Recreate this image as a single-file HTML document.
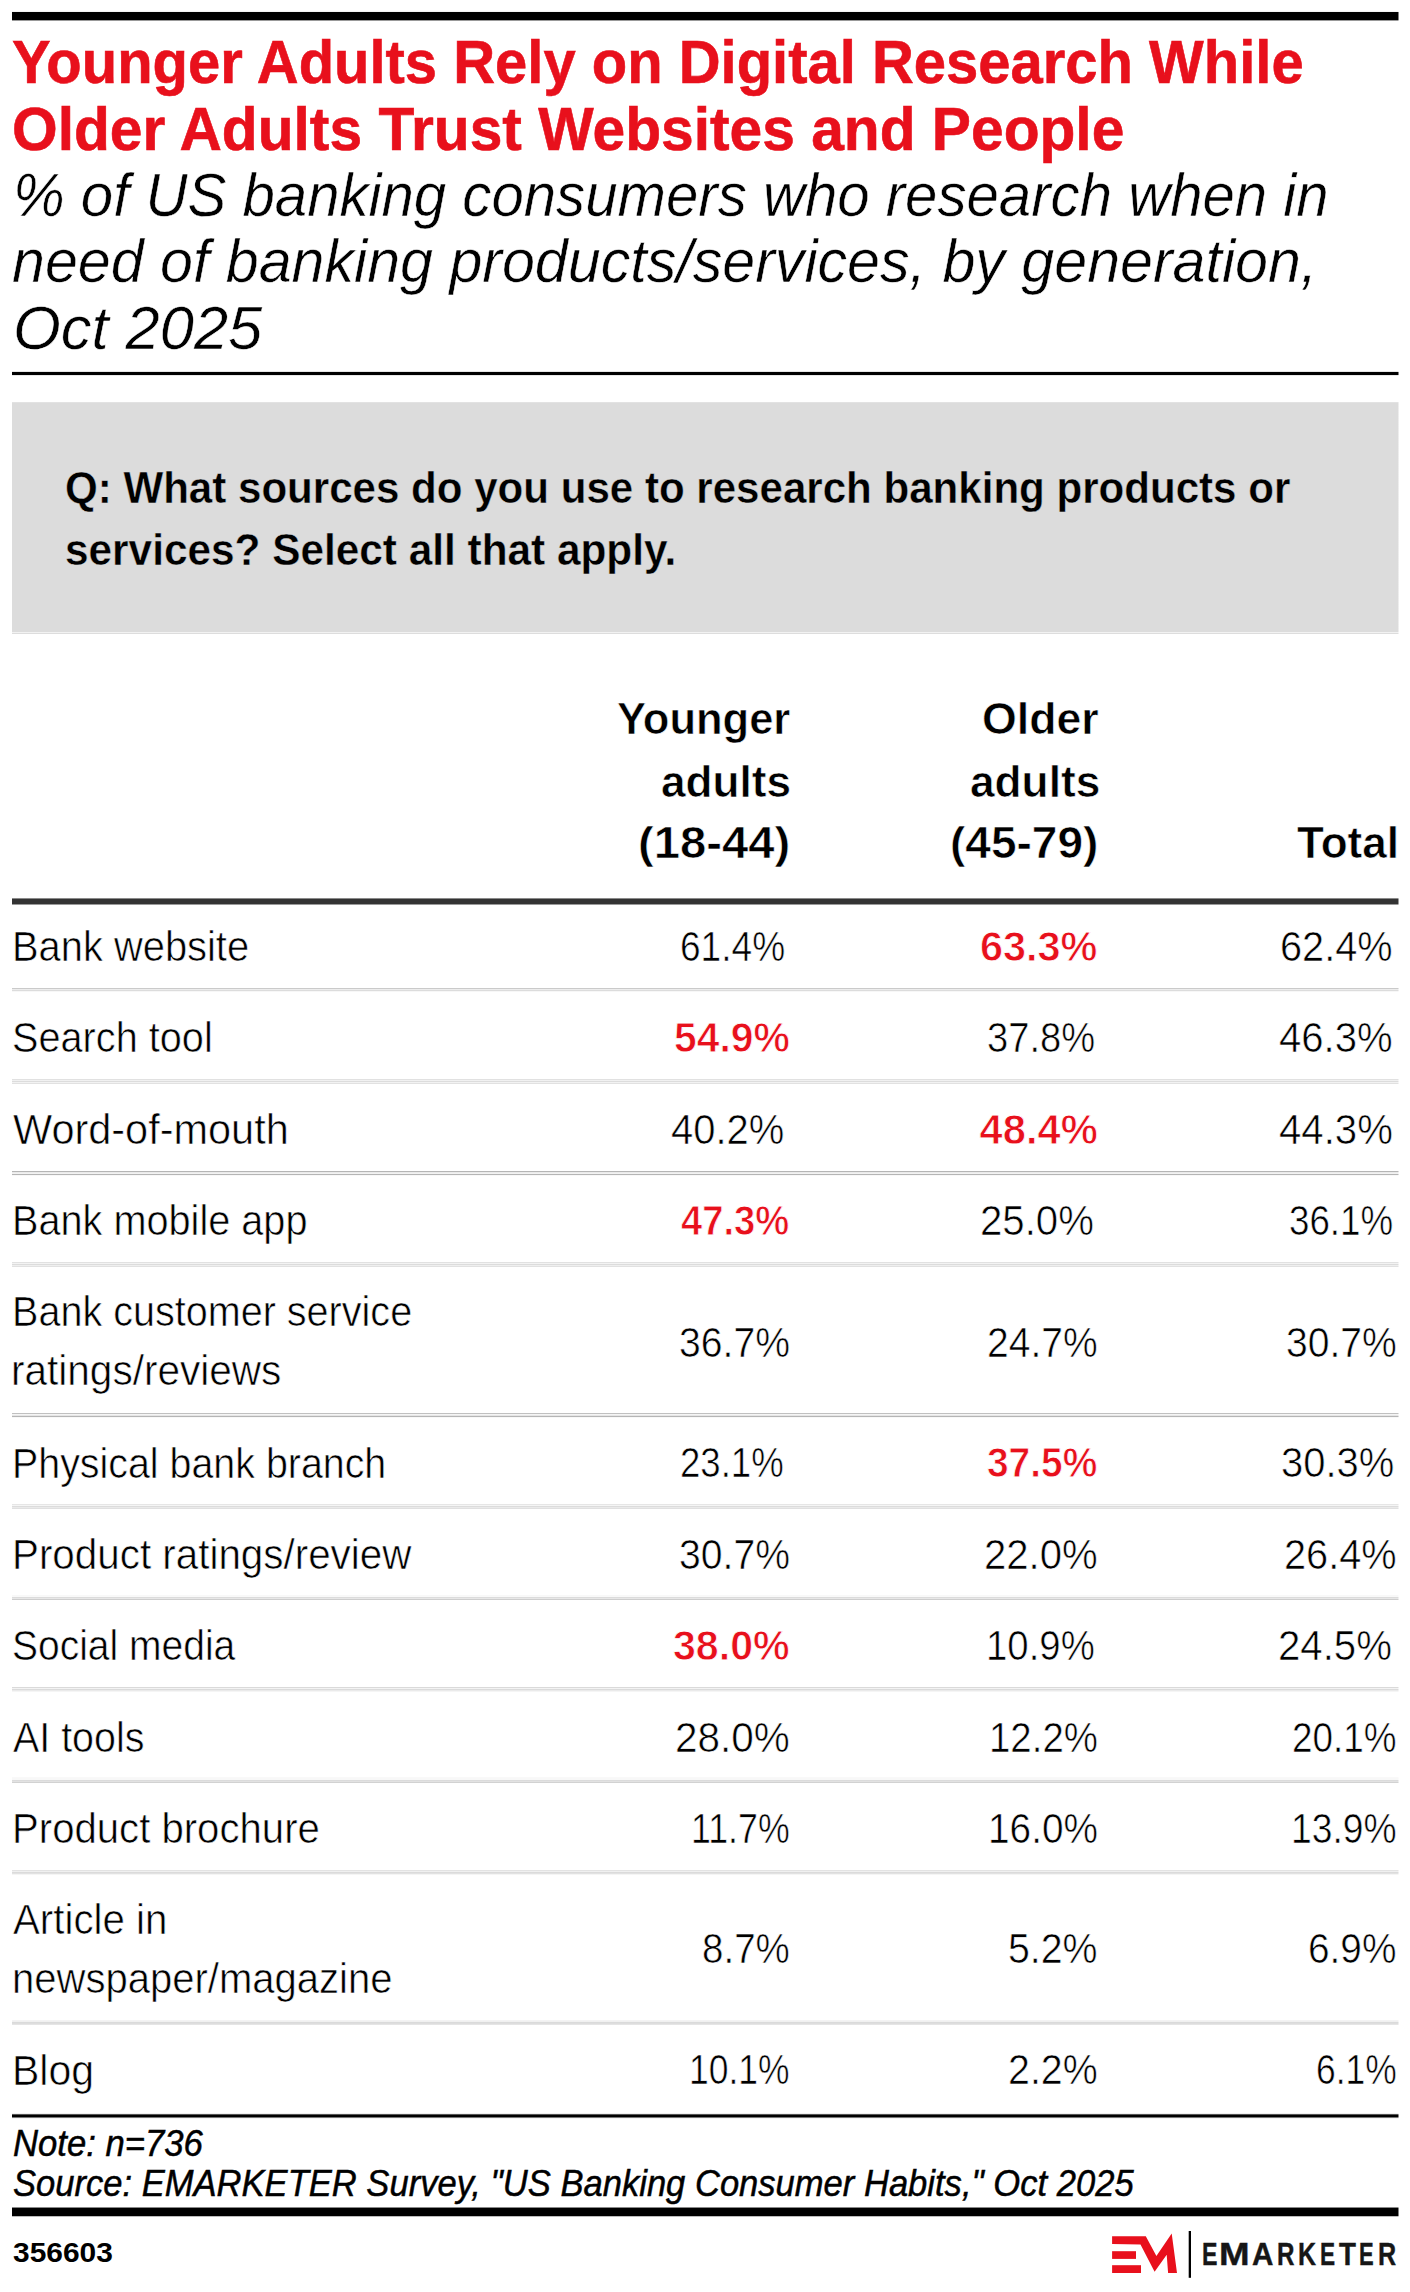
<!DOCTYPE html><html><head><meta charset="utf-8"><style>
*{margin:0;padding:0;box-sizing:border-box}
html,body{width:1410px;height:2292px;background:#fff;overflow:hidden}
body{position:relative;font-family:"Liberation Sans",Arial,sans-serif}
.t{position:absolute;white-space:pre;line-height:1;transform-origin:0 0}
.r{position:absolute}
</style></head><body>
<div class="r" style="left:12px;top:11px;width:1386px;height:10px;background:linear-gradient(#f4f4f4 0px,#f4f4f4 1px,#000000 1px,#000000 9px,#999999 9px,#999999 10px)"></div><div class="r" style="left:1398px;top:11px;width:1px;height:10px;background:linear-gradient(#f4f4f4 0px,#f4f4f4 1px,#000000 1px,#000000 9px,#999999 9px,#999999 10px);opacity:0.50"></div>
<div class="r" style="left:12px;top:371px;width:1386px;height:5px;background:linear-gradient(#e6e6e6 0px,#e6e6e6 1px,#000000 1px,#000000 4px,#e8e8e8 4px,#e8e8e8 5px)"></div><div class="r" style="left:1398px;top:371px;width:1px;height:5px;background:linear-gradient(#e6e6e6 0px,#e6e6e6 1px,#000000 1px,#000000 4px,#e8e8e8 4px,#e8e8e8 5px);opacity:0.50"></div>
<div class="r" style="left:12px;top:402px;width:1386px;height:232px;background:linear-gradient(#e2e2e2 0px,#e2e2e2 1px,#dcdcdc 1px,#dcdcdc 230px,#f2f2f2 230px,#f2f2f2 231px,#dddddd 231px,#dddddd 232px)"></div><div class="r" style="left:1398px;top:402px;width:1px;height:232px;background:linear-gradient(#e2e2e2 0px,#e2e2e2 1px,#dcdcdc 1px,#dcdcdc 230px,#f2f2f2 230px,#f2f2f2 231px,#dddddd 231px,#dddddd 232px);opacity:0.50"></div>
<div class="r" style="left:12px;top:898px;width:1386px;height:7px;background:linear-gradient(#8a8a8a 0px,#8a8a8a 1px,#333333 1px,#333333 6px,#9a9a9a 6px,#9a9a9a 7px)"></div><div class="r" style="left:1398px;top:898px;width:1px;height:7px;background:linear-gradient(#8a8a8a 0px,#8a8a8a 1px,#333333 1px,#333333 6px,#9a9a9a 6px,#9a9a9a 7px);opacity:0.50"></div>
<div class="r" style="left:12px;top:988px;width:1386px;height:4px;background:linear-gradient(#cacaca 0px,#cacaca 1px,#ededed 1px,#ededed 2px,#dcdcdc 2px,#dcdcdc 3px,#f7f7f7 3px,#f7f7f7 4px)"></div><div class="r" style="left:1398px;top:988px;width:1px;height:4px;background:linear-gradient(#cacaca 0px,#cacaca 1px,#ededed 1px,#ededed 2px,#dcdcdc 2px,#dcdcdc 3px,#f7f7f7 3px,#f7f7f7 4px);opacity:0.50"></div>
<div class="r" style="left:12px;top:1079px;width:1386px;height:5px;background:linear-gradient(#e1e1e1 0px,#e1e1e1 1px,#f1f1f1 1px,#f1f1f1 2px,#dcdcdc 2px,#dcdcdc 3px,#f2f2f2 3px,#f2f2f2 4px,#e1e1e1 4px,#e1e1e1 5px)"></div><div class="r" style="left:1398px;top:1079px;width:1px;height:5px;background:linear-gradient(#e1e1e1 0px,#e1e1e1 1px,#f1f1f1 1px,#f1f1f1 2px,#dcdcdc 2px,#dcdcdc 3px,#f2f2f2 3px,#f2f2f2 4px,#e1e1e1 4px,#e1e1e1 5px);opacity:0.50"></div>
<div class="r" style="left:12px;top:1171px;width:1386px;height:5px;background:linear-gradient(#b5b5b5 0px,#b5b5b5 1px,#eaeaea 1px,#eaeaea 2px,#f2f2f2 2px,#f2f2f2 3px,#b5b5b5 3px,#b5b5b5 4px,#f8f8f8 4px,#f8f8f8 5px)"></div><div class="r" style="left:1398px;top:1171px;width:1px;height:5px;background:linear-gradient(#b5b5b5 0px,#b5b5b5 1px,#eaeaea 1px,#eaeaea 2px,#f2f2f2 2px,#f2f2f2 3px,#b5b5b5 3px,#b5b5b5 4px,#f8f8f8 4px,#f8f8f8 5px);opacity:0.50"></div>
<div class="r" style="left:12px;top:1262px;width:1386px;height:5px;background:linear-gradient(#e1e1e1 0px,#e1e1e1 1px,#f3f3f3 1px,#f3f3f3 2px,#dcdcdc 2px,#dcdcdc 3px,#efefef 3px,#efefef 4px,#e1e1e1 4px,#e1e1e1 5px)"></div><div class="r" style="left:1398px;top:1262px;width:1px;height:5px;background:linear-gradient(#e1e1e1 0px,#e1e1e1 1px,#f3f3f3 1px,#f3f3f3 2px,#dcdcdc 2px,#dcdcdc 3px,#efefef 3px,#efefef 4px,#e1e1e1 4px,#e1e1e1 5px);opacity:0.50"></div>
<div class="r" style="left:12px;top:1413px;width:1386px;height:5px;background:linear-gradient(#c0c0c0 0px,#c0c0c0 1px,#f5f5f5 1px,#f5f5f5 2px,#e5e5e5 2px,#e5e5e5 3px,#b5b5b5 3px,#b5b5b5 4px,#f8f8f8 4px,#f8f8f8 5px)"></div><div class="r" style="left:1398px;top:1413px;width:1px;height:5px;background:linear-gradient(#c0c0c0 0px,#c0c0c0 1px,#f5f5f5 1px,#f5f5f5 2px,#e5e5e5 2px,#e5e5e5 3px,#b5b5b5 3px,#b5b5b5 4px,#f8f8f8 4px,#f8f8f8 5px);opacity:0.50"></div>
<div class="r" style="left:12px;top:1504px;width:1386px;height:5px;background:linear-gradient(#e6e6e6 0px,#e6e6e6 1px,#f5f5f5 1px,#f5f5f5 2px,#dcdcdc 2px,#dcdcdc 3px,#eaeaea 3px,#eaeaea 4px,#e0e0e0 4px,#e0e0e0 5px)"></div><div class="r" style="left:1398px;top:1504px;width:1px;height:5px;background:linear-gradient(#e6e6e6 0px,#e6e6e6 1px,#f5f5f5 1px,#f5f5f5 2px,#dcdcdc 2px,#dcdcdc 3px,#eaeaea 3px,#eaeaea 4px,#e0e0e0 4px,#e0e0e0 5px);opacity:0.50"></div>
<div class="r" style="left:12px;top:1595px;width:1386px;height:5px;background:linear-gradient(#f8f8f8 0px,#f8f8f8 1px,#f9f9f9 1px,#f9f9f9 2px,#dcdcdc 2px,#dcdcdc 3px,#e7e7e7 3px,#e7e7e7 4px,#cdcdcd 4px,#cdcdcd 5px)"></div><div class="r" style="left:1398px;top:1595px;width:1px;height:5px;background:linear-gradient(#f8f8f8 0px,#f8f8f8 1px,#f9f9f9 1px,#f9f9f9 2px,#dcdcdc 2px,#dcdcdc 3px,#e7e7e7 3px,#e7e7e7 4px,#cdcdcd 4px,#cdcdcd 5px);opacity:0.50"></div>
<div class="r" style="left:12px;top:1687px;width:1386px;height:5px;background:linear-gradient(#dadada 0px,#dadada 1px,#f3f3f3 1px,#f3f3f3 2px,#dbdbdb 2px,#dbdbdb 3px,#eaeaea 3px,#eaeaea 4px,#f5f5f5 4px,#f5f5f5 5px)"></div><div class="r" style="left:1398px;top:1687px;width:1px;height:5px;background:linear-gradient(#dadada 0px,#dadada 1px,#f3f3f3 1px,#f3f3f3 2px,#dbdbdb 2px,#dbdbdb 3px,#eaeaea 3px,#eaeaea 4px,#f5f5f5 4px,#f5f5f5 5px);opacity:0.50"></div>
<div class="r" style="left:12px;top:1777px;width:1386px;height:6px;background:linear-gradient(#f9f9f9 0px,#f9f9f9 1px,#f8f8f8 1px,#f8f8f8 3px,#dbdbdb 3px,#dbdbdb 4px,#e2e2e2 4px,#e2e2e2 5px,#d2d2d2 5px,#d2d2d2 6px)"></div><div class="r" style="left:1398px;top:1777px;width:1px;height:6px;background:linear-gradient(#f9f9f9 0px,#f9f9f9 1px,#f8f8f8 1px,#f8f8f8 3px,#dbdbdb 3px,#dbdbdb 4px,#e2e2e2 4px,#e2e2e2 5px,#d2d2d2 5px,#d2d2d2 6px);opacity:0.50"></div>
<div class="r" style="left:12px;top:1870px;width:1386px;height:5px;background:linear-gradient(#e3e3e3 0px,#e3e3e3 1px,#f0f0f0 1px,#f0f0f0 2px,#dbdbdb 2px,#dbdbdb 3px,#e2e2e2 3px,#e2e2e2 4px,#f5f5f5 4px,#f5f5f5 5px)"></div><div class="r" style="left:1398px;top:1870px;width:1px;height:5px;background:linear-gradient(#e3e3e3 0px,#e3e3e3 1px,#f0f0f0 1px,#f0f0f0 2px,#dbdbdb 2px,#dbdbdb 3px,#e2e2e2 3px,#e2e2e2 4px,#f5f5f5 4px,#f5f5f5 5px);opacity:0.50"></div>
<div class="r" style="left:12px;top:2020px;width:1386px;height:5px;background:linear-gradient(#f3f3f3 0px,#f3f3f3 1px,#f0f0f0 1px,#f0f0f0 2px,#dadada 2px,#dadada 3px,#dddddd 3px,#dddddd 4px,#e5e5e5 4px,#e5e5e5 5px)"></div><div class="r" style="left:1398px;top:2020px;width:1px;height:5px;background:linear-gradient(#f3f3f3 0px,#f3f3f3 1px,#f0f0f0 1px,#f0f0f0 2px,#dadada 2px,#dadada 3px,#dddddd 3px,#dddddd 4px,#e5e5e5 4px,#e5e5e5 5px);opacity:0.50"></div>
<div class="r" style="left:12px;top:2113px;width:1386px;height:6px;background:linear-gradient(#f0f0f0 0px,#f0f0f0 1px,#555555 1px,#555555 2px,#000000 2px,#000000 4px,#777777 4px,#777777 5px,#f4f4f4 5px,#f4f4f4 6px)"></div><div class="r" style="left:1398px;top:2113px;width:1px;height:6px;background:linear-gradient(#f0f0f0 0px,#f0f0f0 1px,#555555 1px,#555555 2px,#000000 2px,#000000 4px,#777777 4px,#777777 5px,#f4f4f4 5px,#f4f4f4 6px);opacity:0.50"></div>
<div class="r" style="left:12px;top:2207px;width:1386px;height:10px;background:linear-gradient(#888888 0px,#888888 1px,#000000 1px,#000000 9px,#bbbbbb 9px,#bbbbbb 10px)"></div><div class="r" style="left:1398px;top:2207px;width:1px;height:10px;background:linear-gradient(#888888 0px,#888888 1px,#000000 1px,#000000 9px,#bbbbbb 9px,#bbbbbb 10px);opacity:0.50"></div>
<svg class="r" style="left:0;top:0" width="1410" height="2292" viewBox="0 0 1410 2292"><g fill="#e8101c"><polygon points="1112.1,2236.3 1145.8,2236.3 1156.4,2255.9 1171.7,2233.5 1177.0,2272.9 1168.1,2272.9 1166.7,2254.8 1154.6,2271.8 1140.5,2244.5 1112.1,2244.1"/><rect x="1112.1" y="2251.2" width="23.9" height="7.7"/><rect x="1112.1" y="2265.2" width="28.9" height="7.8"/></g><rect x="1188.7" y="2231" width="2.3" height="46.8" fill="#000"/></svg>
<div class="t" id="t1" style="left:11.59px;top:32.41px;font-size:60.44px;font-weight:700;color:#e8101c;transform:scaleX(0.9592);-webkit-text-stroke:0.6px #e8101c;">Younger Adults Rely on Digital Research While</div>
<div class="t" id="t2" style="left:12.17px;top:98.60px;font-size:60.44px;font-weight:700;color:#e8101c;transform:scaleX(0.9713);-webkit-text-stroke:0.6px #e8101c;">Older Adults Trust Websites and People</div>
<div class="t" id="s1" style="left:13.37px;top:166.11px;font-size:60.16px;font-style:italic;transform:scaleX(0.9667);-webkit-text-stroke:0.5px #fff;">% of US banking consumers who research when in</div>
<div class="t" id="s2" style="left:12.08px;top:232.41px;font-size:60.16px;font-style:italic;transform:scaleX(0.9832);-webkit-text-stroke:0.5px #fff;">need of banking products/services, by generation,</div>
<div class="t" id="s3" style="left:13.02px;top:299.22px;font-size:60.16px;font-style:italic;transform:scaleX(1.0211);-webkit-text-stroke:0.5px #fff;">Oct 2025</div>
<div class="t" id="q1" style="left:64.98px;top:465.10px;font-size:44.80px;font-weight:700;transform:scaleX(0.9394);-webkit-text-stroke:0.4px #dcdcdc;">Q: What sources do you use to research banking products or</div>
<div class="t" id="q2" style="left:64.68px;top:526.91px;font-size:44.80px;font-weight:700;transform:scaleX(0.9453);-webkit-text-stroke:0.4px #dcdcdc;">services? Select all that apply.</div>
<div class="t" id="h1a" style="left:617.22px;top:696.21px;font-size:44.80px;font-weight:700;transform:scaleX(0.9716);-webkit-text-stroke:0.6px #fff;">Younger</div>
<div class="t" id="h1b" style="left:661.11px;top:758.51px;font-size:44.80px;font-weight:700;transform:scaleX(0.9868);-webkit-text-stroke:0.6px #fff;">adults</div>
<div class="t" id="h1c" style="left:637.99px;top:820.30px;font-size:44.80px;font-weight:700;transform:scaleX(1.0533);-webkit-text-stroke:0.6px #fff;">(18-44)</div>
<div class="t" id="h2a" style="left:982.20px;top:696.21px;font-size:44.80px;font-weight:700;transform:scaleX(0.9967);-webkit-text-stroke:0.6px #fff;">Older</div>
<div class="t" id="h2b" style="left:969.51px;top:758.51px;font-size:44.80px;font-weight:700;transform:scaleX(0.9875);-webkit-text-stroke:0.6px #fff;">adults</div>
<div class="t" id="h2c" style="left:950.04px;top:820.21px;font-size:44.80px;font-weight:700;transform:scaleX(1.0277);-webkit-text-stroke:0.6px #fff;">(45-79)</div>
<div class="t" id="h3" style="left:1296.60px;top:819.91px;font-size:44.80px;font-weight:700;transform:scaleX(0.9838);-webkit-text-stroke:0.6px #fff;">Total</div>
<div class="t" id="l0" style="left:12.09px;top:925.50px;font-size:42.10px;transform:scaleX(0.9471);-webkit-text-stroke:0.6px #fff;">Bank website</div>
<div class="t" id="l1" style="left:11.96px;top:1016.71px;font-size:42.10px;transform:scaleX(0.9427);-webkit-text-stroke:0.6px #fff;">Search tool</div>
<div class="t" id="l2" style="left:13.20px;top:1108.80px;font-size:42.10px;transform:scaleX(0.9849);-webkit-text-stroke:0.6px #fff;">Word-of-mouth</div>
<div class="t" id="l3" style="left:12.20px;top:1200.30px;font-size:42.10px;transform:scaleX(0.9423);-webkit-text-stroke:0.6px #fff;">Bank mobile app</div>
<div class="t" id="l4" style="left:12.11px;top:1291.21px;font-size:42.10px;transform:scaleX(0.9398);-webkit-text-stroke:0.6px #fff;">Bank customer service</div>
<div class="t" id="l5" style="left:10.97px;top:1350.10px;font-size:42.10px;transform:scaleX(0.9628);-webkit-text-stroke:0.6px #fff;">ratings/reviews</div>
<div class="t" id="l6" style="left:12.12px;top:1442.71px;font-size:42.10px;transform:scaleX(0.9354);-webkit-text-stroke:0.6px #fff;">Physical bank branch</div>
<div class="t" id="l7" style="left:12.05px;top:1533.71px;font-size:42.10px;transform:scaleX(0.9589);-webkit-text-stroke:0.6px #fff;">Product ratings/review</div>
<div class="t" id="l8" style="left:11.98px;top:1624.60px;font-size:42.10px;transform:scaleX(0.9264);-webkit-text-stroke:0.6px #fff;">Social media</div>
<div class="t" id="l9" style="left:13.00px;top:1716.71px;font-size:42.10px;transform:scaleX(0.9354);-webkit-text-stroke:0.6px #fff;">AI tools</div>
<div class="t" id="l10" style="left:12.06px;top:1808.21px;font-size:42.10px;transform:scaleX(0.9533);-webkit-text-stroke:0.6px #fff;">Product brochure</div>
<div class="t" id="l11" style="left:13.00px;top:1899.00px;font-size:42.10px;transform:scaleX(0.9562);-webkit-text-stroke:0.6px #fff;">Article in</div>
<div class="t" id="l12" style="left:12.00px;top:1957.71px;font-size:42.10px;transform:scaleX(0.9509);-webkit-text-stroke:0.6px #fff;">newspaper/magazine</div>
<div class="t" id="l13" style="left:11.99px;top:2049.91px;font-size:42.10px;transform:scaleX(0.9745);-webkit-text-stroke:0.6px #fff;">Blog</div>
<div class="t" id="v0" style="left:679.56px;top:925.71px;font-size:41.67px;transform:scaleX(0.8899);-webkit-text-stroke:0.6px #fff;">61.4%</div>
<div class="t" id="v1" style="left:980.11px;top:925.71px;font-size:41.67px;font-weight:700;color:#e8101c;transform:scaleX(0.9943);-webkit-text-stroke:0.8px #fff;">63.3%</div>
<div class="t" id="v2" style="left:1279.54px;top:925.71px;font-size:41.67px;transform:scaleX(0.9534);-webkit-text-stroke:0.6px #fff;">62.4%</div>
<div class="t" id="v3" style="left:673.76px;top:1016.80px;font-size:41.67px;font-weight:700;color:#e8101c;transform:scaleX(0.9802);-webkit-text-stroke:0.8px #fff;">54.9%</div>
<div class="t" id="v4" style="left:987.11px;top:1016.80px;font-size:41.67px;transform:scaleX(0.9151);-webkit-text-stroke:0.6px #fff;">37.8%</div>
<div class="t" id="v5" style="left:1279.27px;top:1016.80px;font-size:41.67px;transform:scaleX(0.9616);-webkit-text-stroke:0.6px #fff;">46.3%</div>
<div class="t" id="v6" style="left:670.78px;top:1108.80px;font-size:41.67px;transform:scaleX(0.9590);-webkit-text-stroke:0.6px #fff;">40.2%</div>
<div class="t" id="v7" style="left:979.60px;top:1108.80px;font-size:41.67px;font-weight:700;color:#e8101c;-webkit-text-stroke:0.8px #fff;">48.4%</div>
<div class="t" id="v8" style="left:1278.97px;top:1108.80px;font-size:41.67px;transform:scaleX(0.9642);-webkit-text-stroke:0.6px #fff;">44.3%</div>
<div class="t" id="v9" style="left:681.30px;top:1200.30px;font-size:41.67px;font-weight:700;color:#e8101c;transform:scaleX(0.9161);-webkit-text-stroke:0.8px #fff;">47.3%</div>
<div class="t" id="v10" style="left:980.22px;top:1200.30px;font-size:41.67px;transform:scaleX(0.9638);-webkit-text-stroke:0.6px #fff;">25.0%</div>
<div class="t" id="v11" style="left:1288.65px;top:1200.30px;font-size:41.67px;transform:scaleX(0.8814);-webkit-text-stroke:0.6px #fff;">36.1%</div>
<div class="t" id="v12" style="left:678.68px;top:1321.80px;font-size:41.67px;transform:scaleX(0.9393);-webkit-text-stroke:0.6px #fff;">36.7%</div>
<div class="t" id="v13" style="left:986.87px;top:1321.80px;font-size:41.67px;transform:scaleX(0.9368);-webkit-text-stroke:0.6px #fff;">24.7%</div>
<div class="t" id="v14" style="left:1286.18px;top:1321.80px;font-size:41.67px;transform:scaleX(0.9385);-webkit-text-stroke:0.6px #fff;">30.7%</div>
<div class="t" id="v15" style="left:679.79px;top:1442.30px;font-size:41.67px;transform:scaleX(0.8777);-webkit-text-stroke:0.6px #fff;">23.1%</div>
<div class="t" id="v16" style="left:987.19px;top:1442.30px;font-size:41.67px;font-weight:700;color:#e8101c;transform:scaleX(0.9332);-webkit-text-stroke:0.8px #fff;">37.5%</div>
<div class="t" id="v17" style="left:1280.55px;top:1442.30px;font-size:41.67px;transform:scaleX(0.9592);-webkit-text-stroke:0.6px #fff;">30.3%</div>
<div class="t" id="v18" style="left:678.68px;top:1533.50px;font-size:41.67px;transform:scaleX(0.9393);-webkit-text-stroke:0.6px #fff;">30.7%</div>
<div class="t" id="v19" style="left:984.32px;top:1533.50px;font-size:41.67px;transform:scaleX(0.9629);-webkit-text-stroke:0.6px #fff;">22.0%</div>
<div class="t" id="v20" style="left:1284.34px;top:1533.50px;font-size:41.67px;transform:scaleX(0.9542);-webkit-text-stroke:0.6px #fff;">26.4%</div>
<div class="t" id="v21" style="left:672.76px;top:1625.00px;font-size:41.67px;font-weight:700;color:#e8101c;transform:scaleX(0.9870);-webkit-text-stroke:0.8px #fff;">38.0%</div>
<div class="t" id="v22" style="left:986.30px;top:1625.00px;font-size:41.67px;transform:scaleX(0.9212);-webkit-text-stroke:0.6px #fff;">10.9%</div>
<div class="t" id="v23" style="left:1278.32px;top:1625.00px;font-size:41.67px;transform:scaleX(0.9647);-webkit-text-stroke:0.6px #fff;">24.5%</div>
<div class="t" id="v24" style="left:675.10px;top:1716.61px;font-size:41.67px;transform:scaleX(0.9716);-webkit-text-stroke:0.6px #fff;">28.0%</div>
<div class="t" id="v25" style="left:988.60px;top:1716.61px;font-size:41.67px;transform:scaleX(0.9220);-webkit-text-stroke:0.6px #fff;">12.2%</div>
<div class="t" id="v26" style="left:1292.27px;top:1716.61px;font-size:41.67px;transform:scaleX(0.8846);-webkit-text-stroke:0.6px #fff;">20.1%</div>
<div class="t" id="v27" style="left:691.07px;top:1808.11px;font-size:41.67px;transform:scaleX(0.8578);-webkit-text-stroke:0.6px #fff;">11.7%</div>
<div class="t" id="v28" style="left:987.58px;top:1808.11px;font-size:41.67px;transform:scaleX(0.9308);-webkit-text-stroke:0.6px #fff;">16.0%</div>
<div class="t" id="v29" style="left:1291.17px;top:1808.11px;font-size:41.67px;transform:scaleX(0.8941);-webkit-text-stroke:0.6px #fff;">13.9%</div>
<div class="t" id="v30" style="left:702.00px;top:1928.41px;font-size:41.67px;transform:scaleX(0.9249);-webkit-text-stroke:0.6px #fff;">8.7%</div>
<div class="t" id="v31" style="left:1007.97px;top:1928.41px;font-size:41.67px;transform:scaleX(0.9433);-webkit-text-stroke:0.6px #fff;">5.2%</div>
<div class="t" id="v32" style="left:1308.38px;top:1928.41px;font-size:41.67px;transform:scaleX(0.9315);-webkit-text-stroke:0.6px #fff;">6.9%</div>
<div class="t" id="v33" style="left:689.29px;top:2049.30px;font-size:41.67px;transform:scaleX(0.8503);-webkit-text-stroke:0.6px #fff;">10.1%</div>
<div class="t" id="v34" style="left:1007.85px;top:2049.30px;font-size:41.67px;transform:scaleX(0.9446);-webkit-text-stroke:0.6px #fff;">2.2%</div>
<div class="t" id="v35" style="left:1315.94px;top:2049.30px;font-size:41.67px;transform:scaleX(0.8509);-webkit-text-stroke:0.6px #fff;">6.1%</div>
<div class="t" id="n1" style="left:12.76px;top:2125.01px;font-size:36.98px;font-style:italic;transform:scaleX(0.9373);-webkit-text-stroke:0.5px #000;">Note: n=736</div>
<div class="t" id="n2" style="left:12.76px;top:2165.01px;font-size:36.98px;font-style:italic;transform:scaleX(0.9348);-webkit-text-stroke:0.5px #000;">Source: EMARKETER Survey, &quot;US Banking Consumer Habits,&quot; Oct 2025</div>
<div class="t" id="id" style="left:12.63px;top:2239.21px;font-size:28.02px;font-weight:700;transform:scaleX(1.0687);">356603</div>
<div class="t" id="em0" style="left:1201.75px;top:2239.40px;font-size:31.00px;font-weight:700;color:#161616;transform:scaleX(0.7476);-webkit-text-stroke:0.4px #161616;">E</div>
<div class="t" id="em1" style="left:1219.20px;top:2239.40px;font-size:31.00px;font-weight:700;color:#161616;transform:scaleX(1.1847);-webkit-text-stroke:0.4px #161616;">M</div>
<div class="t" id="em2" style="left:1251.54px;top:2239.40px;font-size:31.00px;font-weight:700;color:#161616;transform:scaleX(0.9570);-webkit-text-stroke:0.4px #161616;">A</div>
<div class="t" id="em3" style="left:1276.59px;top:2239.40px;font-size:31.00px;font-weight:700;color:#161616;transform:scaleX(0.7804);-webkit-text-stroke:0.4px #161616;">R</div>
<div class="t" id="em4" style="left:1298.44px;top:2239.40px;font-size:31.00px;font-weight:700;color:#161616;transform:scaleX(0.8060);-webkit-text-stroke:0.4px #161616;">K</div>
<div class="t" id="em5" style="left:1320.18px;top:2239.40px;font-size:31.00px;font-weight:700;color:#161616;transform:scaleX(0.7308);-webkit-text-stroke:0.4px #161616;">E</div>
<div class="t" id="em6" style="left:1338.70px;top:2239.40px;font-size:31.00px;font-weight:700;color:#161616;transform:scaleX(0.8945);-webkit-text-stroke:0.4px #161616;">T</div>
<div class="t" id="em7" style="left:1358.93px;top:2239.40px;font-size:31.00px;font-weight:700;color:#161616;transform:scaleX(0.7085);-webkit-text-stroke:0.4px #161616;">E</div>
<div class="t" id="em8" style="left:1378.13px;top:2239.40px;font-size:31.00px;font-weight:700;color:#161616;transform:scaleX(0.8106);-webkit-text-stroke:0.4px #161616;">R</div>
</body></html>
